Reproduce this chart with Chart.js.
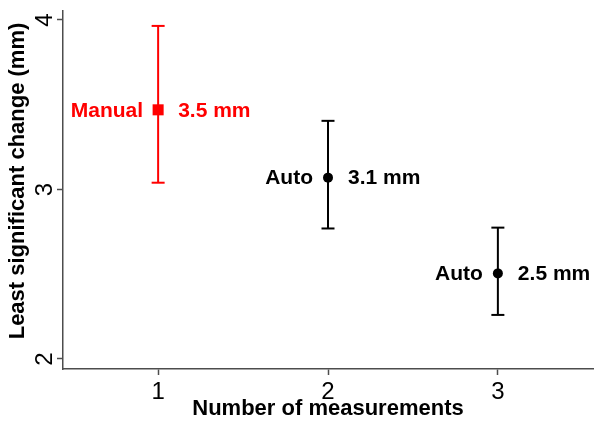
<!DOCTYPE html>
<html>
<head>
<meta charset="utf-8">
<title>Least significant change by number of measurements</title>
<script src="https://cdn.jsdelivr.net/npm/chart.js@4/dist/chart.umd.min.js"></script>
<style>
  html, body { margin: 0; padding: 0; background: #ffffff; }
  canvas { display: block; }
</style>
</head>
<body>
<canvas id="lsc" width="596" height="425"></canvas>
<script>
// Number of measurements averaged, and the method used
const measurements = [1, 2, 3];
const methods = ['Manual', 'Auto', 'Auto'];
// Least significant change (mm) with its interval
const lscValues = [3.47, 3.07, 2.505];
const ciLower = [3.04, 2.77, 2.26];
const ciUpper = [3.965, 3.405, 2.775];
// Axis ticks
const xTicks = [1, 2, 3];
const yTicks = [2, 3, 4];

const seriesColors = ['#ff0000', '#000000', '#000000'];
const markerStyles = ['rect', 'circle', 'circle'];
const markerRadius = [7.8, 5, 5];

const FONT = '"Liberation Sans", Arial, Helvetica, sans-serif';
const AXIS_COLOR = '#4d4d4d';

// One vertical whisker (with flat caps) per point
const whiskers = measurements.map((m, i) => ({
  type: 'line',
  data: [{ x: m, y: ciLower[i] }, { x: m, y: ciUpper[i] }],
  borderColor: seriesColors[i],
  borderWidth: 2,
  pointStyle: 'line',
  pointRadius: 6.5,
  pointBorderWidth: 2,
  pointBorderColor: seriesColors[i],
  pointHoverRadius: 6.5,
  order: 2
}));

const markers = {
  type: 'scatter',
  data: measurements.map((m, i) => ({ x: m, y: lscValues[i] })),
  pointStyle: markerStyles,
  pointRadius: markerRadius,
  pointHoverRadius: markerRadius,
  backgroundColor: seriesColors,
  borderColor: seriesColors,
  borderWidth: 0,
  order: 1
};

// Method name on the left of each marker, value on the right
const pointLabels = {
  id: 'pointLabels',
  afterDatasetsDraw(chart) {
    const { ctx, scales: { x, y } } = chart;
    ctx.save();
    ctx.font = 'bold 21px ' + FONT;
    ctx.textBaseline = 'middle';
    measurements.forEach((m, i) => {
      const px = x.getPixelForValue(m);
      const py = y.getPixelForValue(lscValues[i]);
      ctx.fillStyle = seriesColors[i];
      ctx.textAlign = 'right';
      ctx.fillText(methods[i], px - 15, py + 1);
      ctx.textAlign = 'left';
      ctx.fillText(lscValues[i].toFixed(1) + ' mm', px + 20, py + 1);
    });
    ctx.restore();
  }
};

// Vertical axis title, reading bottom to top
const yTitle = {
  id: 'yTitle',
  afterDraw(chart) {
    const { ctx } = chart;
    ctx.save();
    ctx.translate(18, 181);
    ctx.rotate(-Math.PI / 2);
    ctx.font = 'bold 22px ' + FONT;
    ctx.fillStyle = '#000000';
    ctx.textAlign = 'center';
    ctx.textBaseline = 'middle';
    ctx.fillText('Least significant change (mm)', 0, 0);
    ctx.restore();
  }
};

// Keep the plot frame fixed: no extra room reserved for overhanging tick labels
function noLabelOverhang(s) {
  s.paddingLeft = 0;
  s.paddingRight = 0;
  s.paddingTop = 0;
  s.paddingBottom = 0;
}

new Chart(document.getElementById('lsc'), {
  data: { datasets: [markers, ...whiskers] },
  options: {
    responsive: false,
    devicePixelRatio: 1,
    animation: false,
    layout: { autoPadding: false, padding: { top: 11, right: 3, left: 0, bottom: 0 } },
    plugins: { legend: { display: false }, tooltip: { enabled: false } },
    scales: {
      x: {
        type: 'linear',
        min: 0.44,
        max: 3.56,
        afterBuildTicks: (s) => { s.ticks = xTicks.map(v => ({ value: v })); },
        afterFit: (s) => { s.height = 56; noLabelOverhang(s); },
        border: { display: true, color: AXIS_COLOR, width: 1.5 },
        grid: { drawOnChartArea: false, drawTicks: true, tickLength: 6, tickWidth: 1.5, tickColor: AXIS_COLOR },
        ticks: {
          color: '#000000',
          font: { family: FONT, size: 24, lineHeight: 1.2 },
          padding: 3,
          maxRotation: 0,
          minRotation: 0
        },
        title: {
          display: true,
          text: 'Number of measurements',
          color: '#000000',
          font: { family: FONT, size: 22, weight: 'bold', lineHeight: 1.0 },
          padding: { top: 0, bottom: 5 }
        }
      },
      y: {
        type: 'linear',
        min: 1.941,
        max: 4.053,
        afterBuildTicks: (s) => { s.ticks = yTicks.map(v => ({ value: v })); },
        afterFit: (s) => { s.width = 63; noLabelOverhang(s); },
        border: { display: true, color: AXIS_COLOR, width: 1.5 },
        grid: { drawOnChartArea: false, drawTicks: true, tickLength: 6, tickWidth: 1.5, tickColor: AXIS_COLOR },
        ticks: {
          color: '#000000',
          font: { family: FONT, size: 24, lineHeight: 1.2 },
          padding: 5,
          crossAlign: 'center',
          minRotation: 90,
          maxRotation: 90
        }
      }
    }
  },
  plugins: [pointLabels, yTitle]
});
</script>
</body>
</html>
